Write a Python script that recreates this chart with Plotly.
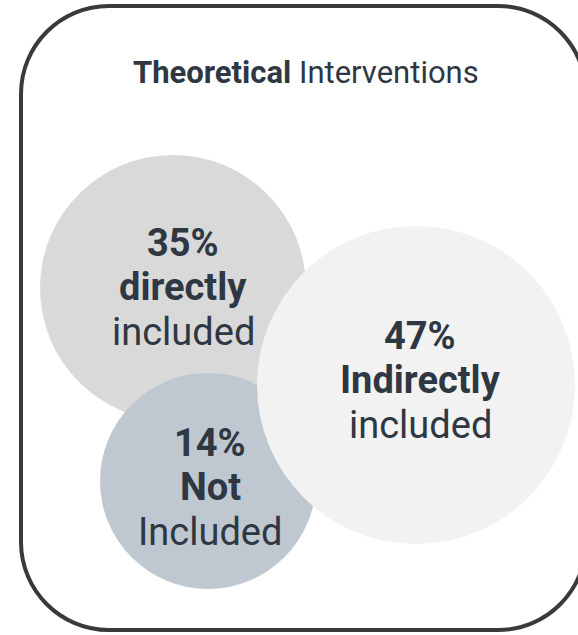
import plotly.graph_objects as go

# ---- data ----
categories = ["directly", "Not", "Indirectly"]
suffixes = ["included", "Included", "included"]
values = [35, 14, 47]
title_bold = "Theoretical"
title_rest = "Interventions"

# ---- layout (window pixel space) ----
W, H = 578, 635
centers = [(173, 288), (208, 481), (416, 385)]
radii = [133, 108, 159]
text_centers = [(183, 287), (210, 487), (420, 380)]
line_gap = 44.5
colors = ["#d9d9d9", "#bfc7d0", "#f2f2f2"]
text_color = "#2e3742"
font = "Roboto"

fig = go.Figure()
fig.add_trace(go.Scatter(x=[0, W], y=[0, H], mode="markers",
                         marker=dict(opacity=0), hoverinfo="skip", showlegend=False))

shapes = []
for (cx, cy), r, c in zip(centers, radii, colors):
    shapes.append(dict(type="circle", xref="x", yref="y",
                       x0=cx - r, x1=cx + r, y0=cy - r, y1=cy + r,
                       fillcolor=c, line=dict(width=0), layer="above"))

# rounded border (right side runs just past the window edge)
x0, x1, y0, y1, rr = 21, 586, 6, 630, 88
k = 0.5523 * rr
path = (f"M {x0+rr},{y0} L {x1-rr},{y0} "
        f"C {x1-rr+k},{y0} {x1},{y0+rr-k} {x1},{y0+rr} "
        f"L {x1},{y1-rr} "
        f"C {x1},{y1-rr+k} {x1-rr+k},{y1} {x1-rr},{y1} "
        f"L {x0+rr},{y1} "
        f"C {x0+rr-k},{y1} {x0},{y1-rr+k} {x0},{y1-rr} "
        f"L {x0},{y0+rr} "
        f"C {x0},{y0+rr-k} {x0+rr-k},{y0} {x0+rr},{y0} Z")
shapes.append(dict(type="path", path=path, xref="x", yref="y",
                   line=dict(color="#3a3a3a", width=4), layer="above"))

annotations = [dict(x=306, y=72, xref="x", yref="y",
                    text=f"<b>{title_bold}</b> {title_rest}", showarrow=False,
                    font=dict(family=font, size=31, color=text_color),
                    xanchor="center", yanchor="middle")]
for (tx, ty), cat, suf, v in zip(text_centers, categories, suffixes, values):
    lines = [f"<b>{v}%</b>", f"<b>{cat}</b>", suf]
    for i, t in enumerate(lines):
        annotations.append(dict(x=tx, y=ty + (i - 1) * line_gap, xref="x", yref="y",
                                text=t, showarrow=False, align="center",
                                font=dict(family=font, size=38, color=text_color),
                                xanchor="center", yanchor="middle"))

fig.update_layout(width=W, height=H, margin=dict(l=0, r=0, t=0, b=0),
                  paper_bgcolor="white", plot_bgcolor="white",
                  xaxis=dict(range=[0, W], visible=False, fixedrange=True),
                  yaxis=dict(range=[H, 0], visible=False, fixedrange=True),
                  shapes=shapes, annotations=annotations, showlegend=False)
fig.write_html("out.html", config={"displayModeBar": False},
               post_script="document.body.style.margin='0';document.body.style.overflow='hidden';")
